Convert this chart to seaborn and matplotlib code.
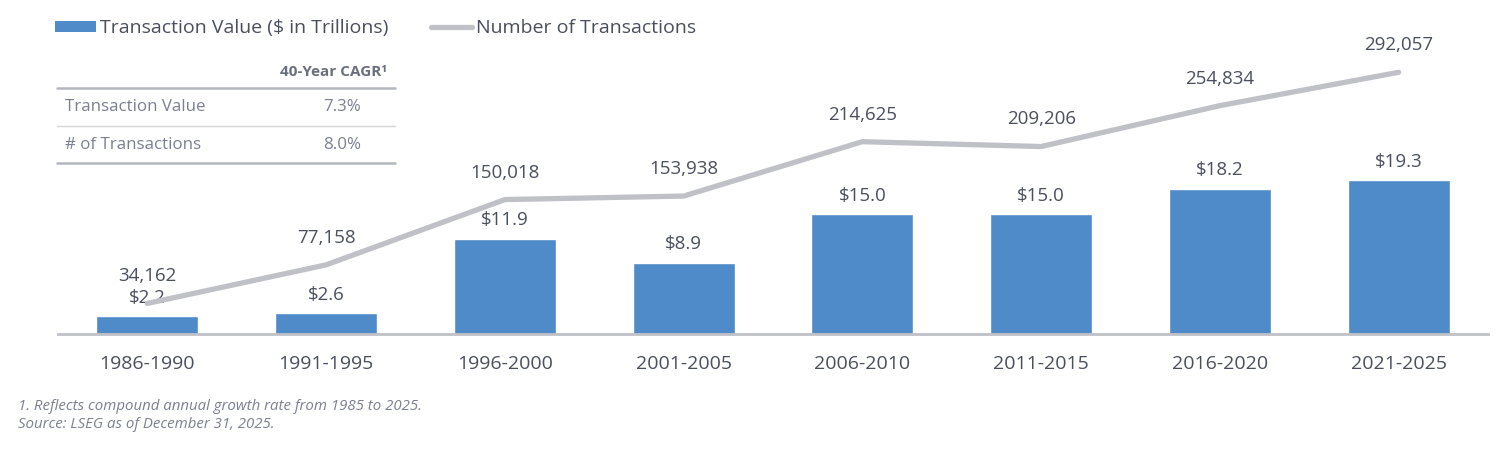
import numpy as np
import pandas as pd
import matplotlib
matplotlib.use("Agg")
import matplotlib.pyplot as plt
import seaborn as sns
from matplotlib.patches import Patch
from matplotlib.lines import Line2D

# Data
periods = ["1986-1990", "1991-1995", "1996-2000", "2001-2005",
           "2006-2010", "2011-2015", "2016-2020", "2021-2025"]
value_trillions = [2.2, 2.6, 11.9, 8.9, 15.0, 15.0, 18.2, 19.3]
num_transactions = [34162, 77158, 150018, 153938, 214625, 209206, 254834, 292057]

cagr_rows = ["Transaction Value", "# of Transactions"]
cagr_values = ["7.3%", "8.0%"]

BAR = "#4F8BC9"
LINE = "#BFC1C7"
TXT = "#4A4F5E"
SOFT = "#7B8091"

sns.set_theme(style="white")
plt.rcParams["font.family"] = ["Open Sans", "DejaVu Sans"]

df = pd.DataFrame({"period": periods, "value": value_trillions,
                   "count": num_transactions, "pos": np.arange(len(periods))})

W, H = 1507, 449
fig = plt.figure(figsize=(W / 100, H / 100), dpi=100)


def fx(px):
    return px / W


def fy(py):
    return 1 - py / H


ax = fig.add_axes([fx(58), fy(334), fx(1488) - fx(58), fy(40) - fy(334)])
sns.barplot(data=df, x="period", y="value", color=BAR, width=0.57,
            saturation=1, ax=ax)
ax.set_xlim(-0.5, 7.5)
ax.set_ylim(0, 36.9)
for i, v in enumerate(value_trillions):
    ax.annotate(f"${v:.1f}", (i, v), xytext=(0, 7), textcoords="offset points",
                ha="center", va="bottom", fontsize=13.5, color=TXT)

ax2 = ax.twinx()
sns.lineplot(data=df, x="pos", y="count", color=LINE, linewidth=3.8, ax=ax2,
             solid_capstyle="round")
ax2.set_ylim(0, 328100)
for i, n in enumerate(num_transactions):
    ax2.annotate(f"{n:,}", (i, n), xytext=(0, 13), textcoords="offset points",
                 ha="center", va="bottom", fontsize=13.5, color=TXT)

for a in (ax, ax2):
    a.set_xlabel("")
    a.set_ylabel("")
    a.set_yticks([])
    for s in a.spines.values():
        s.set_visible(False)
ax.spines["bottom"].set_visible(True)
ax.spines["bottom"].set_color(LINE)
ax.spines["bottom"].set_linewidth(2)
ax.tick_params(axis="x", length=0, pad=15, labelsize=14, labelcolor=TXT)
ax2.set_xlim(-0.5, 7.5)

# legend
handles = [Patch(facecolor=BAR, edgecolor="none"),
           Line2D([0], [0], color=LINE, linewidth=3.8)]
fig.legend(handles, ["Transaction Value ($ in Trillions)", "Number of Transactions"],
           loc="center left", bbox_to_anchor=(fx(55), fy(28)), ncol=2, frameon=False,
           fontsize=14, labelcolor=TXT, handlelength=2.1, handleheight=0.5,
           handletextpad=0.2, columnspacing=2.2, borderaxespad=0, borderpad=0)

# CAGR table
fig.text(fx(387), fy(72), "40-Year CAGR¹", ha="right", va="center",
         fontsize=11, fontweight="bold", color="#6A6F7E")
fig.add_artist(Line2D([fx(57), fx(395)], [fy(88), fy(88)], color="#B3B6BD", lw=1.8))
fig.add_artist(Line2D([fx(57), fx(395)], [fy(126), fy(126)], color="#D3D5D9", lw=1))
fig.add_artist(Line2D([fx(57), fx(395)], [fy(163), fy(163)], color="#B3B6BD", lw=1.8))
for k, (name, val) in enumerate(zip(cagr_rows, cagr_values)):
    y = 107 + k * 38
    fig.text(fx(65), fy(y), name, ha="left", va="center", fontsize=12.2, color=SOFT)
    fig.text(fx(342), fy(y), val, ha="center", va="center", fontsize=12.2, color=SOFT)

# footnotes
fig.text(fx(18), fy(407), "1. Reflects compound annual growth rate from 1985 to 2025.",
         ha="left", va="center", fontsize=10.8, style="italic", color=SOFT)
fig.text(fx(18), fy(425), "Source: LSEG as of December 31, 2025.",
         ha="left", va="center", fontsize=10.8, style="italic", color=SOFT)

fig.savefig("out.png", dpi=100)
